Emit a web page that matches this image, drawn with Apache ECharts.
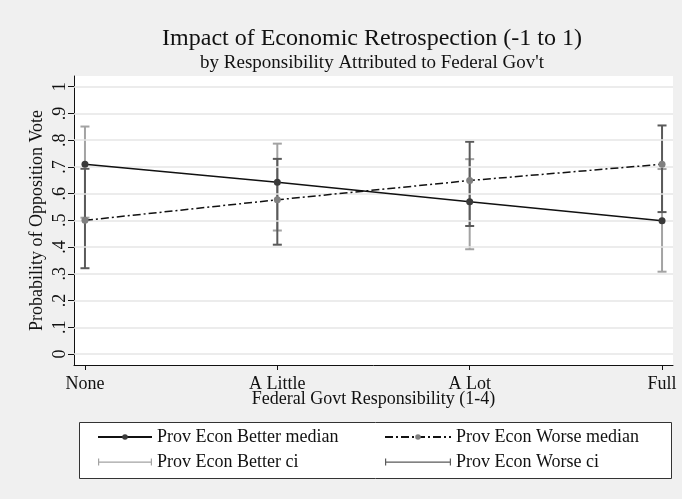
<!DOCTYPE html>
<html>
<head>
<meta charset="utf-8">
<script src="https://cdn.jsdelivr.net/npm/echarts@6/dist/echarts.min.js"></script>
<style>
html,body{margin:0;padding:0;background:#f0f0f0;}
#chart{width:682px;height:499px;}
</style>
</head>
<body>
<div id="chart"></div>
<script>
// ---- data ----
const categories = ['None', 'A Little', 'A Lot', 'Full'];
const xValues = [1, 2, 3, 4];
const betterMedian = [0.710, 0.643, 0.570, 0.499];
const worseMedian = [0.500, 0.577, 0.649, 0.710];
const betterCiLow = [0.510, 0.462, 0.392, 0.308];
const betterCiHigh = [0.851, 0.787, 0.729, 0.692];
const worseCiLow = [0.321, 0.409, 0.479, 0.531];
const worseCiHigh = [0.693, 0.730, 0.794, 0.855];
const yTicks = [0, 0.1, 0.2, 0.3, 0.4, 0.5, 0.6, 0.7, 0.8, 0.9, 1];
const yTickLabels = ['0', '.1', '.2', '.3', '.4', '.5', '.6', '.7', '.8', '.9', '1'];
const titleText = 'Impact of Economic Retrospection (-1 to 1)';
const subtitleText = 'by Responsibility Attributed to Federal Gov\'t';

const FONT = '"Liberation Serif", "DejaVu Serif", serif';
const chart = echarts.init(document.getElementById('chart'), null, {renderer: 'canvas'});

function ciRender(color) {
  return function (params, api) {
    const x = api.value(0), lo = api.value(1), hi = api.value(2);
    const pLo = api.coord([x, lo]);
    const pHi = api.coord([x, hi]);
    const half = 4.5;
    const st = {stroke: color, lineWidth: 2};
    return {
      type: 'group',
      children: [
        {type: 'line', shape: {x1: pLo[0], y1: pLo[1], x2: pHi[0], y2: pHi[1]}, style: st},
        {type: 'line', shape: {x1: pLo[0] - half, y1: pLo[1], x2: pLo[0] + half, y2: pLo[1]}, style: st},
        {type: 'line', shape: {x1: pHi[0] - half, y1: pHi[1], x2: pHi[0] + half, y2: pHi[1]}, style: st}
      ]
    };
  };
}

const option = {
  backgroundColor: '#f0f0f0',
  animation: false,
  grid: {left: 74, right: 9, top: 76, bottom: 134, show: true, backgroundColor: '#ffffff', borderWidth: 0},
  xAxis: {
    type: 'value', min: 0.943, max: 4.057,
    name: 'Federal Govt Responsibility (1-4)', nameLocation: 'middle', nameGap: 25,
    nameMoveOverlap: false,
    nameTextStyle: {fontFamily: FONT, fontSize: 18, color: '#111'},
    axisLine: {show: true, onZero: false, lineStyle: {color: '#111', width: 1}},
    axisTick: {show: true, length: 5, customValues: xValues, lineStyle: {color: '#111'}},
    axisLabel: {
      customValues: xValues, margin: 10,
      fontFamily: FONT, fontSize: 18, color: '#111',
      formatter: function (v) { return categories[xValues.indexOf(Math.round(v))] || ''; }
    },
    splitLine: {show: false}
  },
  yAxis: {
    type: 'value', min: -0.041, max: 1.040,
    name: 'Probability of Opposition Vote', nameLocation: 'middle', nameGap: 28,
    nameMoveOverlap: false,
    nameTextStyle: {fontFamily: FONT, fontSize: 18, color: '#111'},
    axisLine: {show: true, onZero: false, lineStyle: {color: '#111', width: 1}},
    axisTick: {show: true, length: 6, customValues: yTicks, lineStyle: {color: '#111'}},
    axisLabel: {
      customValues: yTicks, rotate: 90, margin: 5,
      fontFamily: FONT, fontSize: 18, color: '#111',
      formatter: function (v) {
        const i = yTicks.findIndex(t => Math.abs(t - v) < 1e-6);
        return i >= 0 ? yTickLabels[i] : '';
      }
    },
    splitLine: {show: false}
  },
  legend: [
    {
      orient: 'vertical', left: 97, top: 428, padding: 0, itemWidth: 54, itemHeight: 7, itemGap: 7,
      textStyle: {fontFamily: FONT, fontSize: 18, color: '#111'},
      data: [
        {name: 'Prov Econ Better median'},
        {name: 'Prov Econ Better ci', icon: 'path://M0,0h1.2v7h-1.2z M0,3h54v1.2h-54z M52.8,0h1.2v7h-1.2z'}
      ]
    },
    {
      orient: 'vertical', left: 384, top: 428, padding: 0, itemWidth: 66, itemHeight: 7, itemGap: 7,
      textStyle: {fontFamily: FONT, fontSize: 18, color: '#111'},
      data: [
        {name: 'Prov Econ Worse median'},
        {name: 'Prov Econ Worse ci', icon: 'path://M0,0h1.2v7h-1.2z M0,3h66v1.2h-66z M64.8,0h1.2v7h-1.2z'}
      ]
    }
  ],
  graphic: [
    {type: 'rect', z: -1, shape: {x: 79.5, y: 422.5, width: 592, height: 56}, style: {fill: '#ffffff', stroke: '#333333', lineWidth: 1}},
    {type: 'text', x: 372, y: 39, style: {text: titleText, font: '24px ' + FONT, fill: '#111', textAlign: 'center', textVerticalAlign: 'middle'}},
    {type: 'text', x: 372, y: 63, style: {text: subtitleText, font: '19px ' + FONT, fill: '#111', textAlign: 'center', textVerticalAlign: 'middle'}}
  ],
  series: [
    {
      name: 'gridlines', type: 'line', data: [], silent: true, z: 1,
      markLine: {
        silent: true, symbol: 'none', label: {show: false},
        lineStyle: {color: '#e6e6e6', width: 1.5, type: 'solid'},
        data: yTicks.map(v => ({yAxis: v}))
      }
    },
    {
      name: 'Prov Econ Better ci', type: 'custom', z: 3,
      itemStyle: {color: '#a3a3a3'},
      renderItem: ciRender('#a3a3a3'),
      data: xValues.map((x, i) => [x, betterCiLow[i], betterCiHigh[i]])
    },
    {
      name: 'Prov Econ Worse ci', type: 'custom', z: 4,
      itemStyle: {color: '#5a5a5a'},
      renderItem: ciRender('#5a5a5a'),
      data: xValues.map((x, i) => [x, worseCiLow[i], worseCiHigh[i]])
    },
    {
      name: 'Prov Econ Better median', type: 'line', z: 5,
      symbol: 'circle', symbolSize: 7,
      lineStyle: {color: '#111111', width: 1.5},
      itemStyle: {color: '#3a3a3a'},
      data: xValues.map((x, i) => [x, betterMedian[i]])
    },
    {
      name: 'Prov Econ Worse median', type: 'line', z: 6,
      symbol: 'circle', symbolSize: 7,
      lineStyle: {color: '#111111', width: 1.5, type: [8, 3, 2, 3]},
      itemStyle: {color: '#808080'},
      data: xValues.map((x, i) => [x, worseMedian[i]])
    }
  ]
};
chart.setOption(option);
</script>
</body>
</html>
